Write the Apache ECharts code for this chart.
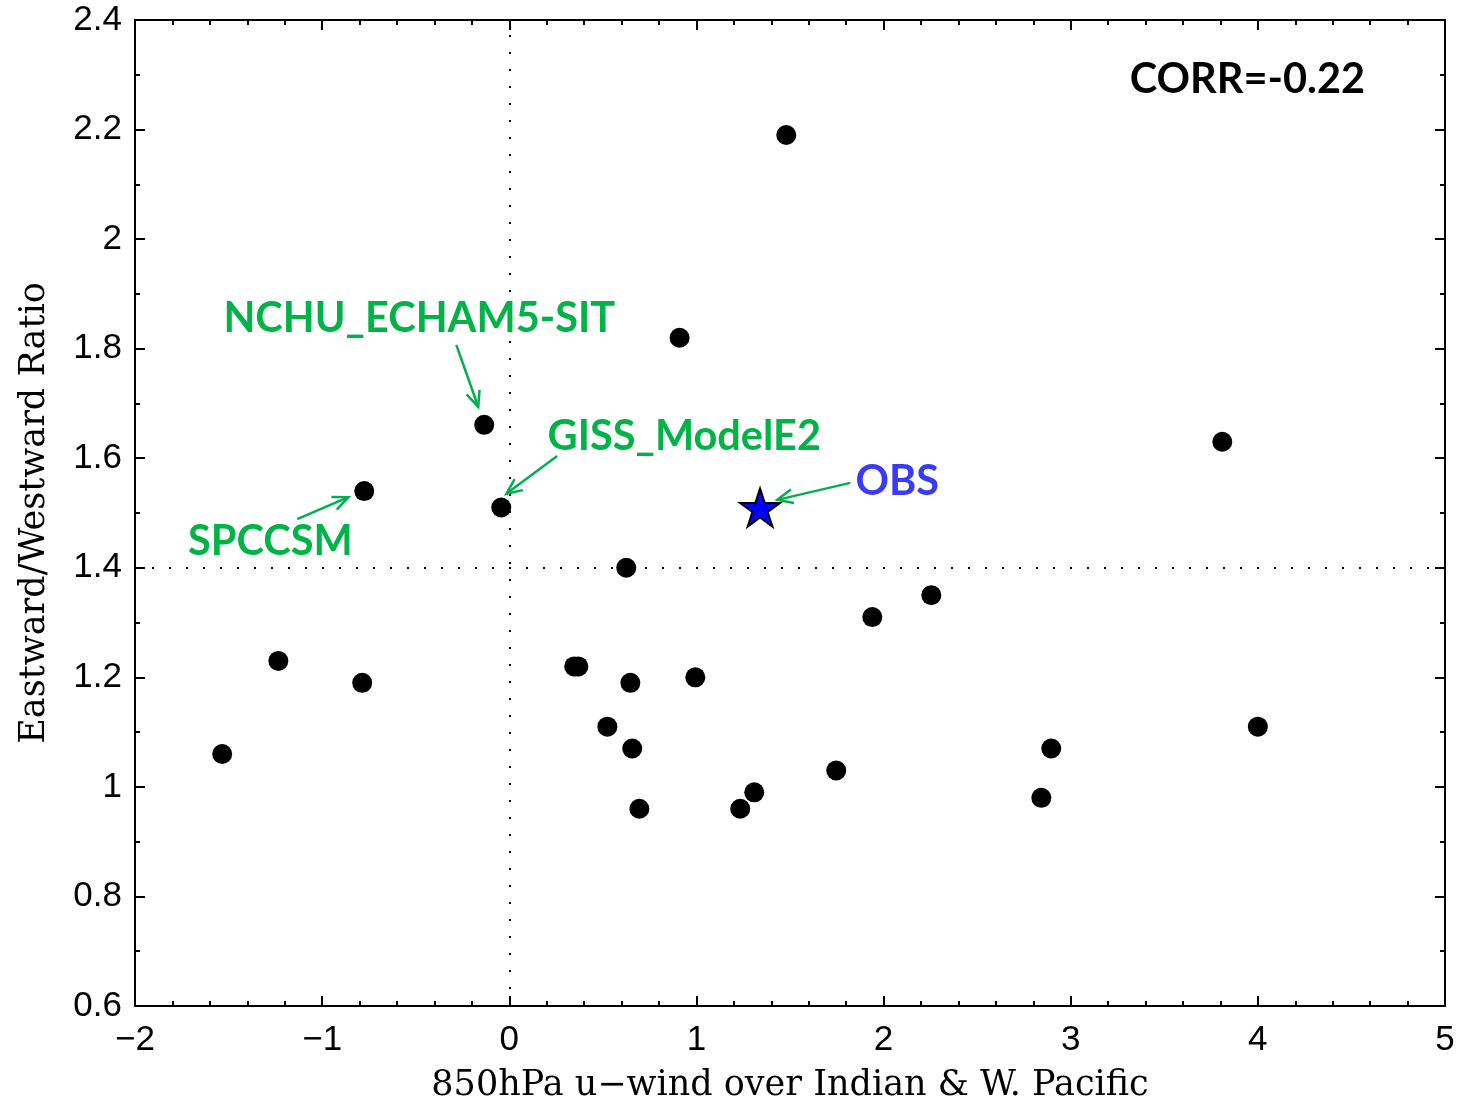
<!DOCTYPE html>
<html><head><meta charset="utf-8">
<script src="https://cdn.jsdelivr.net/npm/echarts@6/dist/echarts.min.js"></script>
<style>html,body{margin:0;padding:0;background:#fff}#c{width:1459px;height:1102px}</style>
</head><body><div id="c"></div>
<script>
// ---- data ----
const modelX = [1.48, 0.91, -0.134, -0.775, -0.043, 3.81, 0.625, 2.255, 1.94, -1.234, 0.347, 0.369, 0.994, -0.786, 0.647, 0.524, 4.0, -1.534, 0.657, 2.896, 1.747, 1.309, 1.234, 0.695, 2.843];
const modelY = [2.19, 1.82, 1.661, 1.54, 1.51, 1.63, 1.40, 1.35, 1.31, 1.23, 1.22, 1.22, 1.20, 1.19, 1.19, 1.11, 1.11, 1.06, 1.07, 1.07, 1.03, 0.99, 0.96, 0.96, 0.98];
const obsX = [1.34];
const obsY = [1.51];
const xRange = [-2, 5];
const yRange = [0.6, 2.4];
const refX = 0;
const refY = 1.4;
const xTitle = '850hPa u\u2212wind over Indian & W. Pacific';
const yTitle = 'Eastward/Westward Ratio';
// annotations (data coords)
const annoText = ['NCHU_ECHAM5-SIT', 'GISS_ModelE2', 'SPCCSM', 'OBS', 'CORR=-0.22'];
const annoX = [-0.481, 0.935, -1.277, 2.073, 3.944];
const annoY = [1.854, 1.639, 1.447, 1.558, 2.292];
const annoKind = ['model', 'model', 'model', 'obs', 'stat'];
const arrowFromX = [-0.283, 0.256, -1.133, 1.822];
const arrowFromY = [1.807, 1.604, 1.489, 1.555];
const arrowToX = [-0.166, -0.016, -0.860, 1.432];
const arrowToY = [1.694, 1.535, 1.529, 1.524];

const GREEN = '#00B346';
const ARROW = '#00B050';
const BLUE = '#3B3BF7';
const textColor = {model: GREEN, obs: BLUE, stat: '#000'};

const starPath = 'path://M100 0 L122.45 69.1 L195.1 69.1 L136.3 111.8 L158.8 180.9 L100 138.2 L41.2 180.9 L63.7 111.8 L4.9 69.1 L77.55 69.1 Z';

const fmt = v => String(v).replace('-', '\u2212');
const tickFont = {fontFamily: 'Liberation Sans', fontSize: 35, color: '#000'};
const axLine = {show: true, onZero: false, lineStyle: {color: '#000', width: 2}};
const titleFont = {fontFamily: 'DejaVu Serif', fontSize: 35, color: '#000'};

function xAxisDef(pos, main) {
  return {
    type: 'value', position: pos, min: xRange[0], max: xRange[1], interval: 1,
    axisLine: axLine,
    axisTick: {show: true, inside: true, length: 10, lineStyle: {color: '#000', width: 2}},
    minorTick: {show: true, splitNumber: 5, length: 5, lineStyle: {color: '#000', width: 2}},
    splitLine: {show: false},
    axisLabel: main ? Object.assign({show: true, margin: 17, formatter: fmt}, tickFont) : {show: false},
    name: main ? xTitle : '', nameLocation: 'middle', nameGap: 62,
    nameTextStyle: titleFont
  };
}
function yAxisDef(pos, main) {
  return {
    type: 'value', position: pos, min: yRange[0], max: yRange[1], interval: 0.2,
    axisLine: axLine,
    axisTick: {show: true, inside: true, length: 10, lineStyle: {color: '#000', width: 2}},
    minorTick: {show: true, splitNumber: 2, length: 5, lineStyle: {color: '#000', width: 2}},
    splitLine: {show: false},
    axisLabel: main ? Object.assign({show: true, margin: 13, formatter: v => fmt(Math.round(v * 10) / 10)}, tickFont) : {show: false},
    name: main ? yTitle : '', nameLocation: 'middle', nameGap: 83, nameRotate: 90,
    nameTextStyle: titleFont
  };
}

const chart = echarts.init(document.getElementById('c'));
chart.setOption({
  animation: false,
  backgroundColor: '#fff',
  grid: {left: 135, top: 20, width: 1310, height: 986, containLabel: false, outerBoundsMode: 'none'},
  xAxis: [xAxisDef('bottom', true), xAxisDef('top', false)],
  yAxis: [yAxisDef('left', true), yAxisDef('right', false)],
  series: [
    {
      type: 'scatter', xAxisIndex: 0, yAxisIndex: 0, z: 3,
      data: modelX.map((x, i) => [x, modelY[i]]),
      symbol: 'circle', symbolSize: 20,
      itemStyle: {color: '#000', opacity: 1},
      markLine: {
        silent: true, symbol: ['none', 'none'], label: {show: false},
        lineStyle: {color: '#000', width: 2, type: [2, 15], opacity: 1},
        data: [{xAxis: refX}, {yAxis: refY}]
      }
    },
    {
      type: 'scatter', xAxisIndex: 0, yAxisIndex: 0, z: 4,
      data: obsX.map((x, i) => [x, obsY[i]]),
      symbol: starPath, symbolSize: [40, 38],
      itemStyle: {color: '#0000FF', borderColor: '#000', borderWidth: 2, opacity: 1}
    },
    {
      type: 'custom', xAxisIndex: 0, yAxisIndex: 0, z: 5, silent: true,
      data: arrowFromX.map((x, i) => [x, arrowFromY[i], arrowToX[i], arrowToY[i]]),
      renderItem(params, api) {
        const p0 = api.coord([api.value(0), api.value(1)]);
        const p1 = api.coord([api.value(2), api.value(3)]);
        const ang = Math.atan2(p1[1] - p0[1], p1[0] - p0[0]);
        const L = 17, a = Math.PI / 7.5;
        const h1 = [p1[0] - L * Math.cos(ang - a), p1[1] - L * Math.sin(ang - a)];
        const h2 = [p1[0] - L * Math.cos(ang + a), p1[1] - L * Math.sin(ang + a)];
        return {type: 'group', children: [
          {type: 'line', shape: {x1: p0[0], y1: p0[1], x2: p1[0], y2: p1[1]}, style: {stroke: ARROW, lineWidth: 2.5}},
          {type: 'polyline', shape: {points: [h1, p1, h2]}, style: {stroke: ARROW, fill: null, lineWidth: 2.5}}
        ]};
      }
    },
    {
      type: 'custom', xAxisIndex: 0, yAxisIndex: 0, z: 6, silent: true,
      data: annoX.map((x, i) => [x, annoY[i], i]),
      renderItem(params, api) {
        const i = api.value(2);
        const p = api.coord([api.value(0), api.value(1)]);
        return {type: 'text', x: p[0], y: p[1], style: {
          text: annoText[i], fill: textColor[annoKind[i]],
          font: 'bold 41.5px Lato', align: 'center', verticalAlign: 'middle'
        }};
      }
    }
  ]
});
</script></body></html>
